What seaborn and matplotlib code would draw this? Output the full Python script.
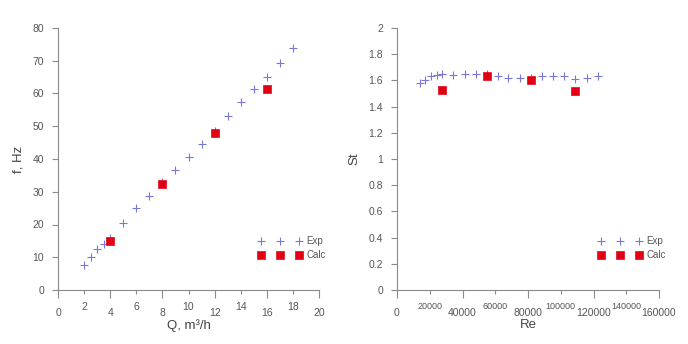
import numpy as np
import pandas as pd
import seaborn as sns
import matplotlib
matplotlib.use('Agg')
import matplotlib.pyplot as plt
from matplotlib.ticker import FixedLocator, FuncFormatter

# Dados
q_exp = [2, 2.5, 3, 3.5, 4, 5, 6, 7, 8, 9, 10, 11, 12, 13, 14, 15, 16, 17, 18]
f_exp = [7.6, 10, 12.5, 14, 16, 20.5, 25, 28.7, 33, 36.6, 40.6, 44.6, 48.5, 53, 57.4, 61.3, 65, 69.3, 73.9]
q_calc = [4, 8, 12, 16]
f_calc = [15, 32.5, 48, 61.5]

re_exp = [14000, 17000, 21000, 24500, 27500, 34000, 41500, 48000, 55000, 61500,
          68000, 75000, 82000, 88500, 95000, 102000, 109000, 116000, 123000]
st_exp = [1.58, 1.60, 1.63, 1.64, 1.65, 1.64, 1.65, 1.65, 1.65, 1.63,
          1.62, 1.62, 1.62, 1.63, 1.63, 1.63, 1.61, 1.62, 1.63]
re_calc = [27500, 55000, 82000, 109000]
st_calc = [1.53, 1.63, 1.60, 1.52]

cor_exp = '#7878dc'
cor_calc = '#e00012'
cor_eixo = '#8a8a8a'
cor_texto = '#555555'

sns.set_style('ticks')
plt.rcParams['font.family'] = ['Liberation Sans', 'DejaVu Sans']

fig = plt.figure(figsize=(6.88, 3.44), dpi=100)
ax1 = fig.add_axes([58 / 688, 54 / 344, 261 / 688, 262 / 344])
ax2 = fig.add_axes([397 / 688, 54 / 344, 262 / 688, 262 / 344])

fmt = FuncFormatter(lambda v, p: '%g' % v)


def configurar(ax, xmaj, xmin, ylim, yticks, xlabel, ylabel, tam_min):
    ax.set_xlim(xmaj[0], xmaj[-1])
    ax.set_ylim(*ylim)
    ax.xaxis.set_major_locator(FixedLocator(xmaj))
    ax.xaxis.set_minor_locator(FixedLocator(xmin))
    ax.xaxis.set_major_formatter(fmt)
    ax.xaxis.set_minor_formatter(fmt)
    ax.yaxis.set_major_locator(FixedLocator(yticks))
    ax.yaxis.set_major_formatter(fmt)
    ax.yaxis.set_minor_locator(FixedLocator([]))
    for s in ['top', 'right']:
        ax.spines[s].set_visible(False)
    for s in ['left', 'bottom']:
        ax.spines[s].set_color(cor_eixo)
        ax.spines[s].set_linewidth(0.8)
    ax.tick_params(axis='x', which='major', length=6, width=0.8, color=cor_eixo,
                   labelsize=7.5, labelcolor=cor_texto, pad=7)
    ax.tick_params(axis='x', which='minor', length=3, width=0.8, color=cor_eixo,
                   labelsize=tam_min, labelcolor=cor_texto, pad=5.5)
    ax.tick_params(axis='y', which='major', length=4, width=0.8, color=cor_eixo,
                   labelsize=7.5, labelcolor=cor_texto, pad=6)
    ax.set_xlabel(xlabel, fontsize=9.5, color='#444444', labelpad=1)
    ax.set_ylabel(ylabel, fontsize=9.5, color='#444444', labelpad=6)


sns.scatterplot(x=q_exp, y=f_exp, ax=ax1, marker='+', s=38, color=cor_exp,
                linewidth=0.8, label='Exp')
sns.scatterplot(x=q_calc, y=f_calc, ax=ax1, marker='s', s=34, color=cor_calc,
                edgecolor=cor_calc, label='Calc')
configurar(ax1, [0, 4, 8, 12, 16, 20], [2, 6, 10, 14, 18], (0, 80),
           list(range(0, 81, 10)), 'Q, m³/h', 'f, Hz', 7.5)

sns.scatterplot(x=re_exp, y=st_exp, ax=ax2, marker='+', s=38, color=cor_exp,
                linewidth=0.8, label='Exp')
sns.scatterplot(x=re_calc, y=st_calc, ax=ax2, marker='s', s=34, color=cor_calc,
                edgecolor=cor_calc, label='Calc')
configurar(ax2, [0, 40000, 80000, 120000, 160000], [20000, 60000, 100000, 140000],
           (0, 2), list(np.round(np.arange(0, 2.01, 0.2), 1)), 'Re', 'St', 6.5)

for ax in (ax1, ax2):
    leg = ax.legend(loc='lower right', bbox_to_anchor=(1.04, 0.1), scatterpoints=3,
                    scatteryoffsets=[0.5], frameon=False, fontsize=7,
                    handlelength=4.5, handletextpad=0.4, labelspacing=0.4,
                    borderaxespad=0)
    leg.legend_handles[0].set_sizes([28])
    leg.legend_handles[1].set_sizes([40])
    for t in leg.get_texts():
        t.set_color(cor_texto)

fig.savefig('out.png', dpi=100)
